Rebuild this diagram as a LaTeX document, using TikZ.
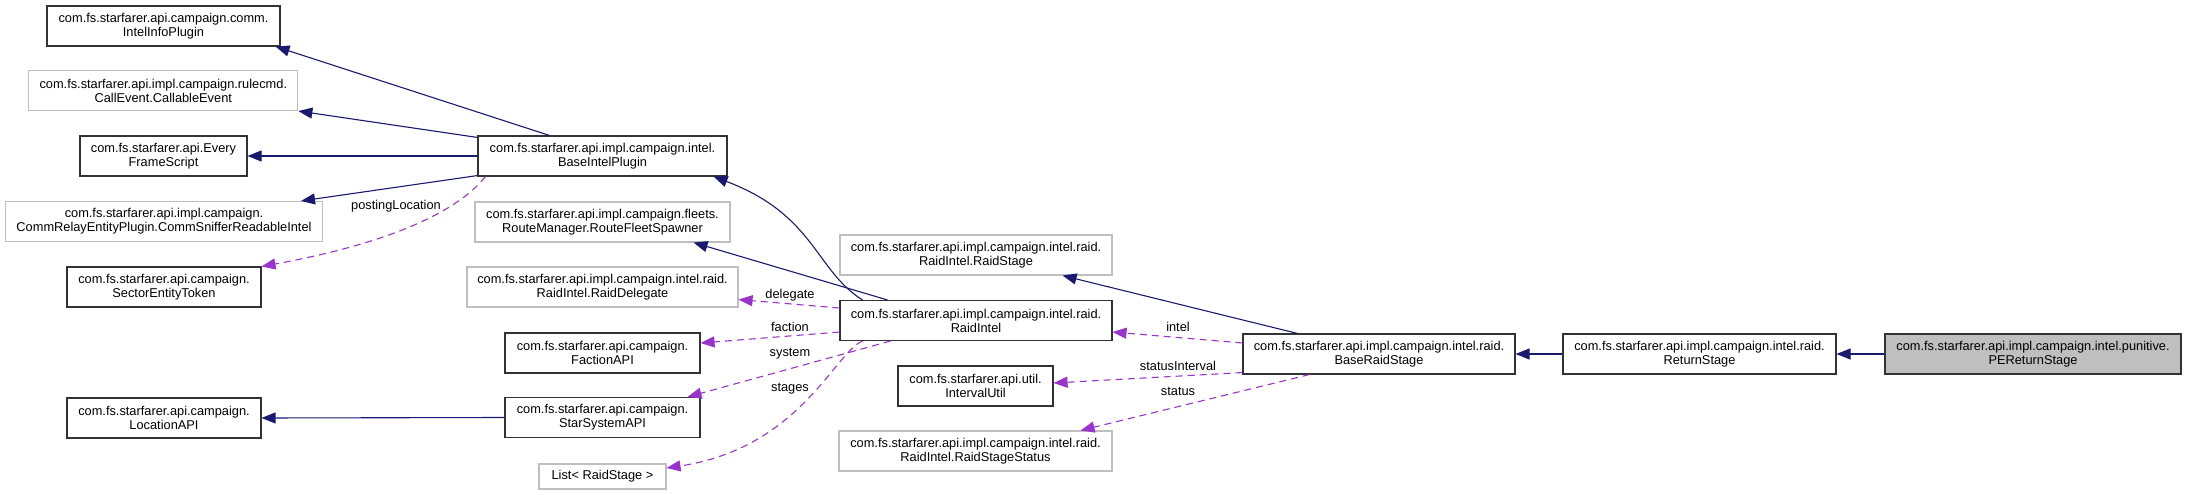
\documentclass[tikz,border=0pt]{standalone}
\usepackage{fontspec}
\setmainfont{Liberation Sans}
\usetikzlibrary{arrows.meta,calc}
\definecolor{edgeblue}{HTML}{191970}
\definecolor{usepurple}{HTML}{9A32CD}
\definecolor{graybox}{HTML}{BFBFBF}
\definecolor{boxline}{HTML}{333333}
\begin{document}
\begin{tikzpicture}[x=1pt,y=-1pt,
  every node/.style={font=\fontsize{12.8}{14}\selectfont},
  cls/.style={draw=boxline, line width=1.1pt, align=center, inner sep=0pt, minimum height=40pt},
  ext/.style={draw=graybox, line width=1.1pt, align=center, inner sep=0pt, minimum height=40pt},
  inh/.style={draw=edgeblue, line width=1.1pt, -{Triangle[length=14pt,width=11pt]}, edgeblue},
  usage/.style={draw=usepurple, line width=1.1pt, dash pattern=on 7pt off 5pt, -{Triangle[length=14pt,width=11pt]}, usepurple},
  lbl/.style={inner sep=0pt}
]
\useasboundingbox (0,0) rectangle (2187,495);

% left column
\node[cls, minimum width=233pt] (intelinfo) at (163.5,26) {com.fs.starfarer.api.campaign.comm.\\IntelInfoPlugin};
\node[ext, minimum width=269pt] (callable) at (163.3,90.5) {com.fs.starfarer.api.impl.campaign.rulecmd.\\CallEvent.CallableEvent};
\node[cls, minimum width=167pt] (everyframe) at (163.5,156) {com.fs.starfarer.api.Every\\FrameScript};
\node[ext, minimum width=317pt] (commsniffer) at (164,221.5) {com.fs.starfarer.api.impl.campaign.\\CommRelayEntityPlugin.CommSnifferReadableIntel};
\node[cls, minimum width=194pt] (sector) at (164,287) {com.fs.starfarer.api.campaign.\\SectorEntityToken};
\node[cls, minimum width=194pt] (location) at (164,418) {com.fs.starfarer.api.campaign.\\LocationAPI};

% second column
\node[cls, minimum width=249pt] (baseintel) at (602.5,156) {com.fs.starfarer.api.impl.campaign.intel.\\BaseIntelPlugin};
\node[ext, minimum width=255pt] (routefleet) at (602.5,222) {com.fs.starfarer.api.impl.campaign.fleets.\\RouteManager.RouteFleetSpawner};
\node[ext, minimum width=271pt] (raiddelegate) at (602.5,287) {com.fs.starfarer.api.impl.campaign.intel.raid.\\RaidIntel.RaidDelegate};
\node[cls, minimum width=195pt] (faction) at (602.5,353) {com.fs.starfarer.api.campaign.\\FactionAPI};
\node[cls, minimum width=195pt] (starsystem) at (602.5,417.5) {com.fs.starfarer.api.campaign.\\StarSystemAPI};
\node[ext, minimum width=127pt, minimum height=25pt] (liststage) at (602.5,476.5) {List< RaidStage >};

% third column
\node[ext, minimum width=272pt] (raidstage) at (976,255) {com.fs.starfarer.api.impl.campaign.intel.raid.\\RaidIntel.RaidStage};
\node[cls, minimum width=272pt] (raidintel) at (976,320.5) {com.fs.starfarer.api.impl.campaign.intel.raid.\\RaidIntel};
\node[cls, minimum width=155pt] (intervalutil) at (975.5,386) {com.fs.starfarer.api.util.\\IntervalUtil};
\node[ext, minimum width=273pt] (stagestatus) at (975.5,451) {com.fs.starfarer.api.impl.campaign.intel.raid.\\RaidIntel.RaidStageStatus};

% right
\node[cls, minimum width=272pt] (baseraid) at (1379,354) {com.fs.starfarer.api.impl.campaign.intel.raid.\\BaseRaidStage};
\node[cls, minimum width=273pt] (returnstage) at (1699.5,354) {com.fs.starfarer.api.impl.campaign.intel.raid.\\ReturnStage};
\node[cls, fill=graybox, minimum width=296pt] (pereturn) at (2033,354) {com.fs.starfarer.api.impl.campaign.intel.punitive.\\PEReturnStage};

% inheritance edges
\draw[inh] ($(baseintel.north west)+(72,0)$) -- ($(intelinfo.south east)+(-5,0)$);
\draw[inh] ($(baseintel.north west)+(0,2)$) -- (callable.south east);
\draw[inh] (baseintel.west) -- (everyframe.east);
\draw[inh] ($(baseintel.south west)+(0,-1)$) -- ($(commsniffer.north east)+(-22,0)$);
\draw[inh] ($(raidintel.north west)+(23,0)$) .. controls (815,270) and (815,215) .. ($(baseintel.south east)+(-14,0)$);
\draw[inh] ($(raidintel.north west)+(48,0)$) -- ($(routefleet.south east)+(-37,0)$);
\draw[inh] ($(baseraid.north west)+(55,0)$) -- ($(raidstage.south east)+(-50,0)$);
\draw[inh] (returnstage.west) -- (baseraid.east);
\draw[inh] (pereturn.west) -- (returnstage.east);
\draw[inh] (starsystem.west) -- (location.east);

% usage edges
\draw[usage] ($(baseintel.south west)+(8,0)$) .. controls (455,215) and (380,245) .. (sector.north east);
\draw[usage] ($(raidintel.west)+(0,-12.5)$) -- ($(raiddelegate.south east)+(0,-8)$);
\draw[usage] ($(raidintel.south west)+(0,-9)$) -- ($(faction.east)+(0,-10)$);
\draw[usage] ($(raidintel.south west)+(51,0)$) -- ($(starsystem.north east)+(-13,0)$);
\draw[usage] ($(raidintel.south west)+(23,0)$) .. controls (835,352) and (800,448) .. ($(liststage.east)+(0,-8.5)$);
\draw[usage] ($(baseraid.west)+(0,-11)$) -- ($(raidintel.east)+(0,11.5)$);
\draw[usage] ($(baseraid.south west)+(0,-2)$) -- ($(intervalutil.east)+(0,-3)$);
\draw[usage] ($(baseraid.south west)+(67,0)$) -- ($(stagestatus.north east)+(-32,0)$);

% labels
\node[lbl] (lposting) at (396,206) {postingLocation};
\node[lbl] (ldelegate) at (790,295) {delegate};
\node[lbl] (lfaction) at (790,327) {faction};
\node[lbl] (lsystem) at (790,354) {system};
\node[lbl] (lstages) at (790,389) {stages};
\node[lbl] (lintel) at (1178,327) {intel};
\node[lbl] (lstatusint) at (1178,366) {statusInterval};
\node[lbl] (lstatus) at (1178,391) {status};
\end{tikzpicture}
\end{document}
